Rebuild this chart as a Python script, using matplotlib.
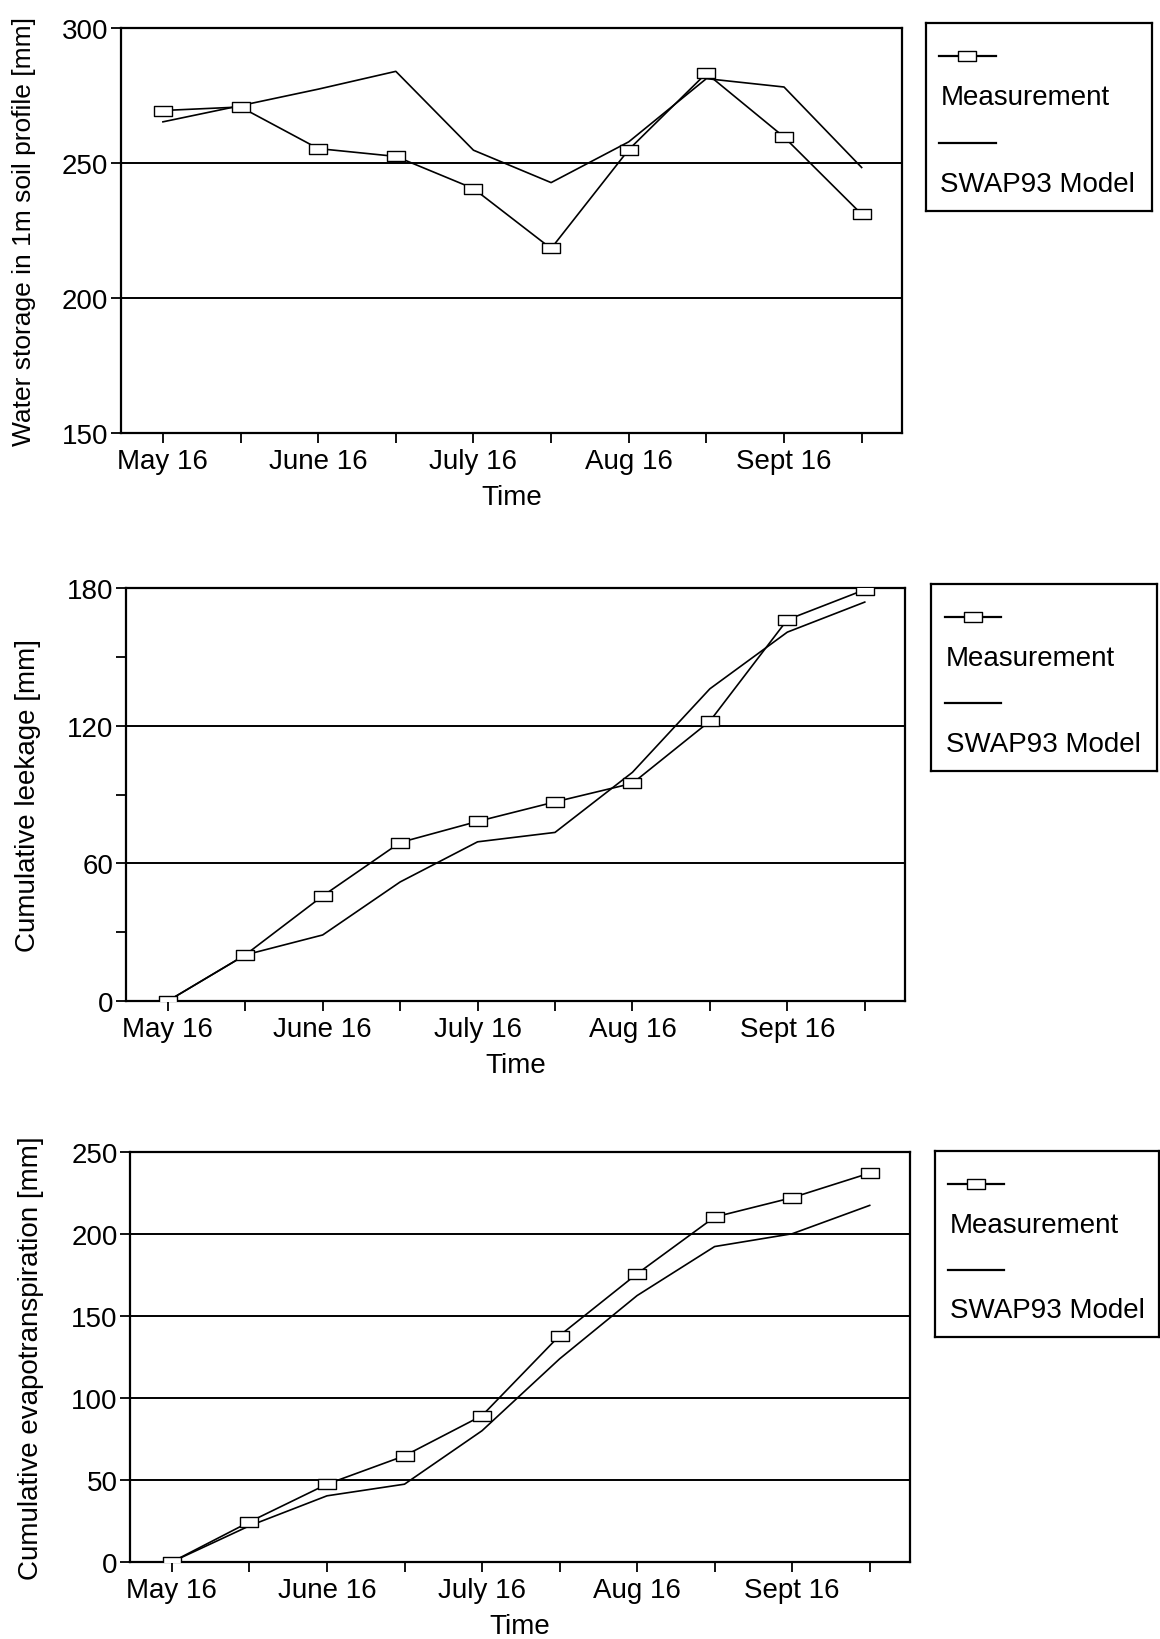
import numpy as np
import matplotlib
matplotlib.use("Agg")
import matplotlib.pyplot as plt
from matplotlib.path import Path

plt.rcParams["font.family"] = ["Liberation Sans", "DejaVu Sans"]
plt.rcParams["font.size"] = 20

# half-month steps from May 16 to end of September
tick_labels = ["May 16", "", "June 16", "", "July 16", "", "Aug 16", "", "Sept 16", ""]
steps = np.arange(len(tick_labels))

# panel 1: water storage in 1 m soil profile [mm]
storage_meas = [269.4, 270.7, 255.3, 252.4, 240.5, 218.3, 254.9, 283.2, 259.6, 231.0]
storage_model = [265.2, 271.2, 277.3, 283.9, 254.7, 242.7, 257.8, 281.2, 278.1, 248.3]

# panel 2: cumulative leakage [mm]
leak_meas = [0.0, 20.1, 45.8, 69.1, 78.3, 86.8, 94.9, 122.0, 166.2, 179.3]
leak_model = [0.0, 20.1, 28.8, 51.9, 69.4, 73.5, 99.7, 136.1, 160.8, 173.9]

# panel 3: cumulative evapotranspiration [mm]
et_meas = [0.0, 24.4, 47.4, 64.7, 89.2, 138.0, 175.7, 210.3, 222.1, 237.1]
et_model = [0.0, 22.0, 40.3, 47.4, 80.0, 123.8, 162.4, 192.3, 200.1, 217.4]

# open rectangle marker, wider than tall
rect = Path([(-1, -0.5), (1, -0.5), (1, 0.5), (-1, 0.5), (-1, -0.5)],
            [Path.MOVETO, Path.LINETO, Path.LINETO, Path.LINETO, Path.CLOSEPOLY])

panels = [
    dict(pos=[0.1043, 0.7354, 0.6733, 0.2470], leg=[0.798, 0.8707, 0.1948, 0.1146],
         meas=storage_meas, model=storage_model, ylim=(150, 300),
         yticks=[150, 200, 250, 300], minor=[], grid=[200, 250],
         ylabel="Water storage in 1m soil profile [mm]", ylsize=19, ylx=-0.109),
    dict(pos=[0.1086, 0.3890, 0.6716, 0.2518], leg=[0.8026, 0.5293, 0.1948, 0.1140],
         meas=leak_meas, model=leak_model, ylim=(0, 180),
         yticks=[0, 60, 120, 180], minor=[30, 90, 150], grid=[60, 120],
         ylabel="Cumulative leekage [mm]", ylsize=20, ylx=-0.109),
    dict(pos=[0.1121, 0.0470, 0.6724, 0.2500], leg=[0.806, 0.1841, 0.193, 0.1134],
         meas=et_meas, model=et_model, ylim=(0, 250),
         yticks=[0, 50, 100, 150, 200, 250], minor=[], grid=[50, 100, 150, 200],
         ylabel="Cumulative evapotranspiration [mm]", ylsize=20, ylx=-0.110),
]

fig = plt.figure(figsize=(11.6, 16.4), dpi=100)

for p in panels:
    ax = fig.add_axes(p["pos"])
    for g in p["grid"]:
        ax.axhline(g, color="black", lw=1.4, zorder=1)
    ax.plot(steps, p["model"], color="black", lw=1.2, zorder=2)
    ax.plot(steps, p["meas"], color="black", lw=1.2, marker=rect, markersize=13,
            markerfacecolor="white", markeredgecolor="black", markeredgewidth=1.0, zorder=3)

    ax.set_xlim(-0.54, 9.52)
    ax.set_ylim(*p["ylim"])
    ax.set_xticks(steps)
    ax.set_xticklabels(tick_labels)
    ax.set_yticks(p["yticks"])
    ax.set_yticks(p["minor"], minor=True)
    ax.tick_params(axis="both", which="both", direction="out", length=7, width=1.3,
                   colors="black", labelsize=20)
    ax.tick_params(axis="x", pad=4)
    ax.tick_params(axis="y", pad=2)
    for s in ax.spines.values():
        s.set_linewidth(1.6)
    ax.set_xlabel("Time", fontsize=20, labelpad=7)
    ax.set_ylabel(p["ylabel"], fontsize=p["ylsize"])
    ax.yaxis.set_label_coords(p["ylx"], 0.5)

    # legend box: sample above its label
    lg = fig.add_axes(p["leg"])
    lg.set_xlim(0, 1)
    lg.set_ylim(0, 1)
    lg.set_xticks([])
    lg.set_yticks([])
    for s in lg.spines.values():
        s.set_linewidth(1.6)
    lg.plot([0.06, 0.185, 0.31], [0.824, 0.824, 0.824], color="black", lw=1.6,
            marker=rect, markersize=13, markevery=[1], markerfacecolor="white",
            markeredgecolor="black")
    lg.text(0.065, 0.605, "Measurement", fontsize=20, va="center", ha="left")
    lg.plot([0.06, 0.31], [0.362, 0.362], color="black", lw=1.6)
    lg.text(0.065, 0.144, "SWAP93 Model", fontsize=20, va="center", ha="left")

fig.savefig("out.png", dpi=100)
